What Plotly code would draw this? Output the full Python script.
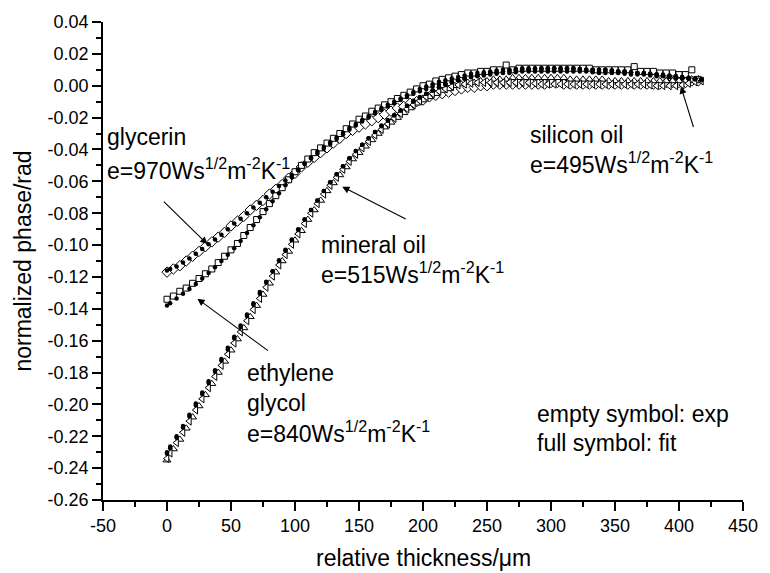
import plotly.graph_objects as go

# ---------------- data ----------------
# sampling grid of the measured (open-symbol) curves
thickness = [0, 5, 10, 15, 20, 25, 30, 35, 40, 45,
             50, 55, 60, 65, 70, 75, 80, 85, 90, 95,
             100, 105, 110, 115, 120, 125, 130, 135, 140, 145,
             150, 155, 160, 165, 170, 175, 180, 185, 190, 195,
             200, 205, 210, 215, 220, 225, 230, 235, 240, 245,
             250, 255, 260, 265, 270, 275, 280, 285, 290, 295,
             300, 305, 310, 315, 320, 325, 330, 335, 340, 345,
             350, 355, 360, 365, 370, 375, 380, 385, 390, 395,
             400, 405, 410, 415]

# sampling grid of the fitted (full-symbol) curves and of the silicon-oil data
thickness_fit = [0,
                 2.5, 7.5, 12.5, 17.5, 22.5, 27.5, 32.5, 37.5, 42.5, 47.5,
                 52.5, 57.5, 62.5, 67.5, 72.5, 77.5, 82.5, 87.5, 92.5, 97.5,
                 102.5, 107.5, 112.5, 117.5, 122.5, 127.5, 132.5, 137.5, 142.5, 147.5,
                 152.5, 157.5, 162.5, 167.5, 172.5, 177.5, 182.5, 187.5, 192.5, 197.5,
                 202.5, 207.5, 212.5, 217.5, 222.5, 227.5, 232.5, 237.5, 242.5, 247.5,
                 252.5, 257.5, 262.5, 267.5, 272.5, 277.5, 282.5, 287.5, 292.5, 297.5,
                 302.5, 307.5, 312.5, 317.5, 322.5, 327.5, 332.5, 337.5, 342.5, 347.5,
                 352.5, 357.5, 362.5, 367.5, 372.5, 377.5, 382.5, 387.5, 392.5, 397.5,
                 402.5, 407.5, 412.5, 417.5]

glycerin_exp = [-0.117, -0.115, -0.113, -0.110, -0.107, -0.104, -0.101, -0.098, -0.095, -0.092,
                -0.088, -0.085, -0.082, -0.078, -0.075, -0.072, -0.068, -0.065, -0.062, -0.058,
                -0.055, -0.051, -0.048, -0.045, -0.042, -0.039, -0.036, -0.033, -0.030, -0.028,
                -0.026, -0.024, -0.022, -0.020, -0.018, -0.016, -0.014, -0.013, -0.011, -0.010,
                -0.009, -0.007, -0.006, -0.005, -0.004, -0.003, -0.002, -0.001, -0.001, 0.000,
                0.000, 0.001, 0.001, 0.001, 0.001, 0.001, 0.001, 0.001, 0.001, 0.001,
                0.002, 0.002, 0.001, 0.001, 0.001, 0.001, 0.001, 0.001, 0.001, 0.001,
                0.001, 0.001, 0.001, 0.001, 0.001, 0.001, 0.001, 0.001, 0.002, 0.002,
                0.002, 0.002, 0.003, 0.003]
glycerin_fit = [-0.116,
                -0.115, -0.1135, -0.111, -0.1085, -0.1055, -0.1025, -0.0995, -0.0965, -0.0935, -0.090,
                -0.0865, -0.0835, -0.080, -0.0765, -0.0735, -0.070, -0.0665, -0.063, -0.0595, -0.056,
                -0.0525, -0.049, -0.0455, -0.0425, -0.0395, -0.0365, -0.0335, -0.0305, -0.0275, -0.025,
                -0.0225, -0.020, -0.0175, -0.015, -0.013, -0.011, -0.009, -0.007, -0.005, -0.0035,
                -0.002, -0.0005, 0.0005, 0.0015, 0.0025, 0.0035, 0.0045, 0.0055, 0.006, 0.0065,
                0.007, 0.0075, 0.008, 0.008, 0.0085, 0.009, 0.009, 0.009, 0.009, 0.009,
                0.009, 0.009, 0.009, 0.009, 0.009, 0.009, 0.0085, 0.008, 0.008, 0.008,
                0.008, 0.0075, 0.007, 0.007, 0.007, 0.0065, 0.006, 0.006, 0.0055, 0.005,
                0.005, 0.0045, 0.004, 0.004]

glycol_exp = [-0.134, -0.132, -0.129, -0.127, -0.124, -0.121, -0.118, -0.115, -0.111, -0.107,
              -0.103, -0.099, -0.094, -0.089, -0.084, -0.079, -0.074, -0.069, -0.064, -0.059,
              -0.054, -0.050, -0.046, -0.042, -0.039, -0.036, -0.033, -0.030, -0.027, -0.024,
              -0.021, -0.019, -0.016, -0.014, -0.012, -0.010, -0.008, -0.006, -0.004, -0.002,
              0.000, 0.001, 0.003, 0.004, 0.005, 0.006, 0.007, 0.008, 0.008, 0.009,
              0.009, 0.010, 0.010, 0.013, 0.010, 0.011, 0.011, 0.011, 0.011, 0.011,
              0.011, 0.011, 0.011, 0.011, 0.011, 0.011, 0.011, 0.010, 0.010, 0.010,
              0.010, 0.010, 0.010, 0.012, 0.009, 0.009, 0.009, 0.008, 0.008, 0.008,
              0.007, 0.007, 0.010, 0.004]
glycol_fit = [-0.138,
              -0.1365, -0.1335, -0.1305, -0.1275, -0.1245, -0.121, -0.1175, -0.114, -0.110, -0.106,
              -0.102, -0.0975, -0.0925, -0.0875, -0.0825, -0.0775, -0.0725, -0.0675, -0.0625, -0.0575,
              -0.053, -0.049, -0.045, -0.0415, -0.0385, -0.0355, -0.0325, -0.0295, -0.0265, -0.024,
              -0.0215, -0.019, -0.0165, -0.014, -0.012, -0.010, -0.008, -0.006, -0.004, -0.002,
              -0.0005, 0.001, 0.0025, 0.0035, 0.0045, 0.0055, 0.0065, 0.0075, 0.008, 0.0085,
              0.009, 0.0095, 0.010, 0.010, 0.0105, 0.011, 0.011, 0.011, 0.011, 0.011,
              0.011, 0.011, 0.011, 0.011, 0.0105, 0.010, 0.010, 0.010, 0.010, 0.0095,
              0.009, 0.009, 0.0085, 0.008, 0.008, 0.0075, 0.007, 0.007, 0.0065, 0.006,
              0.0055, 0.005, 0.0045, 0.004]

mineral_exp = [-0.235, -0.228, -0.222, -0.215, -0.208, -0.201, -0.194, -0.187, -0.180, -0.173,
               -0.166, -0.159, -0.152, -0.145, -0.138, -0.131, -0.124, -0.117, -0.110, -0.104,
               -0.097, -0.091, -0.084, -0.078, -0.072, -0.066, -0.061, -0.056, -0.051, -0.046,
               -0.042, -0.038, -0.034, -0.030, -0.026, -0.023, -0.020, -0.017, -0.014, -0.011,
               -0.009, -0.007, -0.005, -0.003, -0.002, 0.000, 0.001, 0.002, 0.002, 0.003,
               0.003, 0.004, 0.004, 0.004, 0.005, 0.005, 0.005, 0.005, 0.005, 0.005,
               0.005, 0.005, 0.005, 0.004, 0.004, 0.004, 0.004, 0.004, 0.004, 0.003,
               0.003, 0.003, 0.003, 0.003, 0.003, 0.003, 0.003, 0.003, 0.003, 0.003,
               0.003, 0.003, 0.003, 0.003]
mineral_fit = [-0.231,
               -0.2275, -0.221, -0.2145, -0.2075, -0.2005, -0.1935, -0.1865, -0.1795, -0.1725, -0.1655,
               -0.1585, -0.1515, -0.1445, -0.1375, -0.1305, -0.1235, -0.1165, -0.110, -0.1035, -0.097,
               -0.0905, -0.084, -0.078, -0.072, -0.066, -0.0605, -0.0555, -0.0505, -0.0455, -0.041,
               -0.037, -0.033, -0.029, -0.0255, -0.022, -0.0185, -0.0155, -0.0125, -0.0095, -0.007,
               -0.005, -0.003, -0.001, 0.0005, 0.002, 0.0035, 0.0045, 0.0055, 0.0065, 0.0075,
               0.008, 0.0085, 0.009, 0.0095, 0.010, 0.010, 0.010, 0.0105, 0.011, 0.011,
               0.011, 0.011, 0.011, 0.011, 0.0105, 0.010, 0.010, 0.010, 0.010, 0.0095,
               0.009, 0.009, 0.0085, 0.008, 0.008, 0.0075, 0.007, 0.0065, 0.006, 0.0055,
               0.005, 0.0045, 0.004, 0.0035]

silicon_exp = [-0.234,
               -0.2305, -0.224, -0.2175, -0.2105, -0.2035, -0.1965, -0.1895, -0.1825, -0.1755, -0.1685,
               -0.1615, -0.1545, -0.1475, -0.1405, -0.1335, -0.1265, -0.1195, -0.1125, -0.106, -0.0995,
               -0.093, -0.0865, -0.080, -0.074, -0.068, -0.0625, -0.0575, -0.0525, -0.0475, -0.043,
               -0.039, -0.035, -0.031, -0.0275, -0.024, -0.0205, -0.0175, -0.0145, -0.012, -0.0095,
               -0.007, -0.005, -0.0035, -0.002, -0.0005, 0.0005, 0.001, 0.0015, 0.002, 0.002,
               0.002, 0.002, 0.002, 0.002, 0.002, 0.002, 0.002, 0.0015, 0.001, 0.001,
               0.001, 0.001, 0.001, 0.001, 0.001, 0.001, 0.001, 0.001, 0.001, 0.001,
               0.001, 0.001, 0.001, 0.001, 0.001, 0.0005, 0.000, 0.000, 0.000, 0.000,
               0.0005, 0.0015, 0.0025, 0.003]
silicon_fit = [-0.230,
               -0.2265, -0.220, -0.2135, -0.2065, -0.1995, -0.1925, -0.1855, -0.1785, -0.1715, -0.1645,
               -0.1575, -0.1505, -0.1435, -0.1365, -0.1295, -0.123, -0.1165, -0.1095, -0.103, -0.0965,
               -0.090, -0.084, -0.078, -0.072, -0.066, -0.0605, -0.0555, -0.0505, -0.0455, -0.041,
               -0.037, -0.033, -0.029, -0.025, -0.0215, -0.0185, -0.0155, -0.0125, -0.010, -0.0075,
               -0.005, -0.003, -0.001, 0.001, 0.0025, 0.0035, 0.0045, 0.0055, 0.0065, 0.0075,
               0.008, 0.0085, 0.009, 0.009, 0.0095, 0.010, 0.010, 0.010, 0.010, 0.010,
               0.010, 0.010, 0.010, 0.010, 0.010, 0.010, 0.0095, 0.009, 0.009, 0.009,
               0.009, 0.0085, 0.008, 0.008, 0.0075, 0.007, 0.007, 0.0065, 0.006, 0.006,
               0.0055, 0.005, 0.0045, 0.004]

x_tick_vals = [-50, 0, 50, 100, 150, 200, 250, 300, 350, 400, 450]
x_tick_text = ["-50", "0", "50", "100", "150", "200", "250", "300", "350", "400", "450"]
y_tick_vals = [0.04, 0.02, 0.00, -0.02, -0.04, -0.06, -0.08, -0.10, -0.12,
               -0.14, -0.16, -0.18, -0.20, -0.22, -0.24, -0.26]
y_tick_text = ["0.04", "0.02", "0.00", "-0.02", "-0.04", "-0.06", "-0.08", "-0.10", "-0.12",
               "-0.14", "-0.16", "-0.18", "-0.20", "-0.22", "-0.24", "-0.26"]

x_title = "relative thickness/\u03bcm"
y_title = "normalized phase/rad"

# ---------------- figure ----------------
FONT = "Liberation Sans, Arial, sans-serif"
fig = go.Figure()

exp_series = [
    ("glycerin exp", thickness, glycerin_exp, "diamond", 8),
    ("ethylene glycol exp", thickness, glycol_exp, "square", 6),
    ("mineral oil exp", thickness, mineral_exp, "triangle-up", 7),
    ("silicon oil exp", thickness_fit, silicon_exp, "triangle-left", 7),
]
fit_series = [
    ("glycerin fit", glycerin_fit),
    ("ethylene glycol fit", glycol_fit),
    ("mineral oil fit", mineral_fit),
    ("silicon oil fit", silicon_fit),
]

for name, xs, vals, sym, size in exp_series:
    fig.add_trace(go.Scatter(
        x=xs, y=vals, mode="markers", name=name,
        marker=dict(symbol=sym, size=size, color="white",
                    line=dict(color="black", width=1)),
        showlegend=False))

for name, vals in fit_series:
    fig.add_trace(go.Scatter(
        x=thickness_fit, y=vals, mode="markers", name=name,
        marker=dict(symbol="circle", size=4.5, color="black",
                    line=dict(width=0)),
        showlegend=False))

axis_common = dict(
    showline=True, linecolor="black", linewidth=1.6,
    ticks="outside", ticklen=9, tickwidth=1.5, tickcolor="black",
    showgrid=False, zeroline=False, mirror=False,
    tickfont=dict(family=FONT, size=18, color="black"),
    tickmode="array",
)

fig.update_xaxes(
    **axis_common, range=[-50, 450],
    tickvals=x_tick_vals, ticktext=x_tick_text,
    minor=dict(ticks="outside", ticklen=5, tickwidth=1.5, tickcolor="black",
               tickmode="linear", tick0=-25, dtick=50, showgrid=False),
)
fig.update_yaxes(
    **axis_common, range=[-0.26, 0.04],
    tickvals=y_tick_vals, ticktext=y_tick_text,
    minor=dict(ticks="outside", ticklen=5, tickwidth=1.5, tickcolor="black",
               tickmode="linear", tick0=-0.25, dtick=0.02, showgrid=False),
    title=dict(text=y_title,
               font=dict(family=FONT, size=23, color="black"), standoff=10),
)

# plot-area pixel geometry (for placing labels)
L, R, T, B = 103, 17, 18, 73
W, H = 770, 573
PW, PH = W - L - R, H - T - B

def px(xp):
    return (xp - L) / PW

def py(yp):
    return (T + PH - yp) / PH

# x-axis title placed as a paper annotation for exact vertical position
fig.add_annotation(text=x_title, xref="paper", yref="paper",
                   x=0.5, y=py(558), xanchor="center", yanchor="middle",
                   showarrow=False, font=dict(family=FONT, size=23, color="black"))

SUP = "Ws<sup>1/2</sup>m<sup>-2</sup>K<sup>-1</sup>"
labels = [
    ("glycerin", 105, 134),
    ("e=970" + SUP, 105, 166),
    ("silicon oil", 535, 132),
    ("e=495" + SUP, 535, 160),
    ("mineral oil", 322, 243),
    ("e=515" + SUP, 322, 271),
    ("ethylene", 247, 372),
    ("glycol", 247, 402),
    ("e=840" + SUP, 247, 431),
    ("empty symbol: exp", 542, 413),
    ("full symbol: fit", 542, 443),
]
for text, xp_, yp_ in labels:
    fig.add_annotation(text=text, xref="paper", yref="paper",
                       x=px(xp_), y=py(yp_), xanchor="left", yanchor="middle",
                       showarrow=False,
                       font=dict(family=FONT, size=23, color="black"))

# arrows: (tip x, tip y in data units, tail offset in pixels)
arrows = [
    (31.5, -0.0994, -45, -44),
    (23.8, -0.1337, 72, 53),
    (136.9, -0.0634, 65, 33),
    (401.5, -0.0005, 13, 42),
]
for xt, yt, axp, ayp in arrows:
    fig.add_annotation(x=xt, y=yt, xref="x", yref="y", ax=axp, ay=ayp,
                       axref="pixel", ayref="pixel", text="", showarrow=True,
                       arrowhead=2, arrowsize=1.3, arrowwidth=1.1,
                       arrowcolor="black", standoff=0)

fig.update_layout(
    width=W, height=H,
    margin=dict(l=L, r=R, t=T, b=B, pad=0),
    paper_bgcolor="white", plot_bgcolor="white",
    font=dict(family=FONT, color="black"),
    showlegend=False,
)

fig.write_html("out.html")
